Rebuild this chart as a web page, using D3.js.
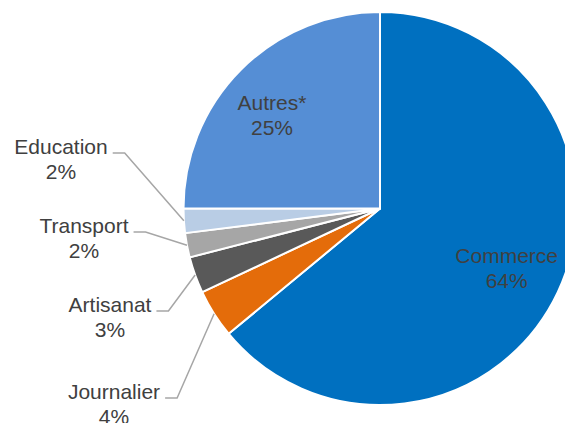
<!DOCTYPE html>
<html>
<head>
<meta charset="utf-8">
<script src="https://cdn.jsdelivr.net/npm/d3@7"></script>
<style>
  body { margin: 0; background: #fff; }
  svg { display: block; font-family: "Liberation Sans", Arial, sans-serif; }
</style>
</head>
<body>
<div id="chart"></div>
<script>
// categories & shares, clockwise from 12 o'clock
const categories = ['Commerce', 'Journalier', 'Artisanat', 'Transport', 'Education', 'Autres*'];
const values = [64, 4, 3, 2, 2, 25];
const sliceColors = ['#0070C0', '#E46C0A', '#595959', '#A6A6A6', '#B9CDE5', '#558ED5'];

// nudges for the labels drawn inside the slices (Excel doesn't sit them exactly on the centroid)
const insideLabelShift = {
  'Commerce': {dx: 0,  dy: 0},
  'Autres*':  {dx: -9, dy: 5}
};

// where Excel put the outside labels (center x, first baseline)
const outsideLabelPos = {
  'Education':  {x: 61,  y: 154},
  'Transport':  {x: 84,  y: 233},
  'Artisanat':  {x: 110, y: 312},
  'Journalier': {x: 114, y: 399}
};

(function(){
  const W = 565, H = 423;
  const cx = 380, cy = 208.5, R = 196.5;
  const fs = 21, lh = 25;

  const svg = d3.select('#chart').append('svg').attr('width', W).attr('height', H);
  const g = svg.append('g').attr('transform', `translate(${cx},${cy})`);

  const data = categories.map((c, i) => ({name: c, value: values[i], color: sliceColors[i]}));
  const pie = d3.pie().sort(null).value(d => d.value);
  const arcs = pie(data);

  const arc = d3.arc().innerRadius(0).outerRadius(R);
  const labelArc = d3.arc().innerRadius(140).outerRadius(140);

  g.selectAll('path.slice')
    .data(arcs)
    .join('path')
    .attr('class', 'slice')
    .attr('d', arc)
    .attr('fill', d => d.data.color)
    .attr('stroke', '#fff')
    .attr('stroke-width', 2)
    .attr('stroke-linejoin', 'round');

  const pct = d => d.data.value + '%';

  // labels inside the big slices
  arcs.filter(d => insideLabelShift[d.data.name]).forEach(d => {
    const s = insideLabelShift[d.data.name];
    const [x0, y0] = labelArc.centroid(d);
    const x = x0 + s.dx, y = y0 + s.dy;
    const t = g.append('text').attr('text-anchor', 'middle').attr('fill', '#404040').attr('font-size', fs);
    t.append('tspan').attr('x', x).attr('y', y - 5).text(d.data.name);
    t.append('tspan').attr('x', x).attr('y', y - 5 + lh).text(pct(d));
  });

  // outside labels with leader lines
  arcs.filter(d => outsideLabelPos[d.data.name]).forEach(d => {
    const p = outsideLabelPos[d.data.name];
    const t = svg.append('text').attr('text-anchor', 'middle').attr('fill', '#404040').attr('font-size', fs);
    const first = t.append('tspan').attr('x', p.x).attr('y', p.y).text(d.data.name);
    t.append('tspan').attr('x', p.x).attr('y', p.y + lh).text(pct(d));

    const tw = first.node().getComputedTextLength();
    const x0 = p.x + tw / 2 + 5;
    const y0 = p.y - 1;
    const mid = (d.startAngle + d.endAngle) / 2;
    const ex = cx + R * Math.sin(mid), ey = cy - R * Math.cos(mid);
    svg.append('path')
      .attr('d', d3.line()([[x0, y0], [x0 + 12, y0], [ex, ey]]))
      .attr('fill', 'none')
      .attr('stroke', '#A6A6A6')
      .attr('stroke-width', 1.5);
  });
})();
</script>
</body>
</html>
